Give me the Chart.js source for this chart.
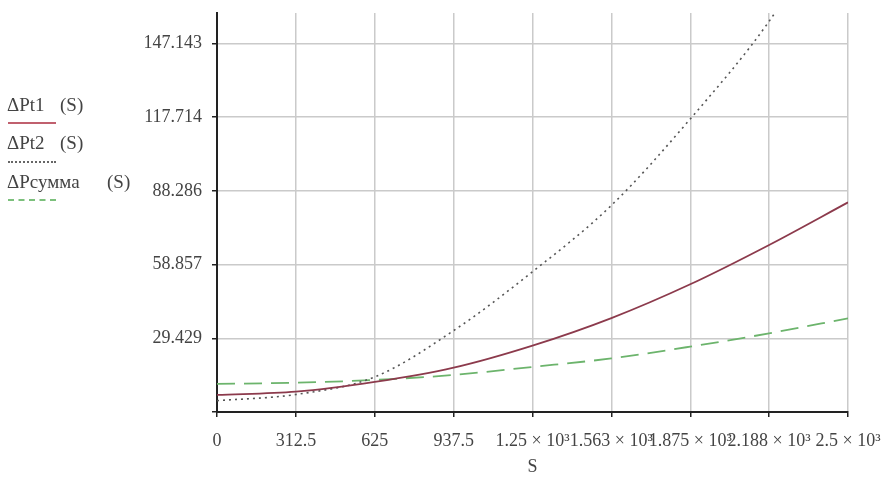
<!DOCTYPE html>
<html>
<head>
<meta charset="utf-8">
<script src="https://cdn.jsdelivr.net/npm/chart.js@4"></script>
<style>
  html, body { margin: 0; padding: 0; background: #fff; }
  #wrap { position: relative; width: 890px; height: 481px; }
  .lg { position: absolute; font-family: "Liberation Serif", serif; font-size: 19px; line-height: 22px; color: #444; white-space: nowrap; }
  .ln { position: absolute; left: 8px; width: 48px; height: 0; }
</style>
</head>
<body>
<div id="wrap">
  <canvas id="chart" width="890" height="481"></canvas>
  <div class="lg" style="left:7px;top:94px">ΔPt1</div>
  <div class="lg" style="left:60px;top:94px">(S)</div>
  <div class="ln" style="top:122px;border-top:2px solid #c0606e"></div>
  <div class="lg" style="left:7px;top:132px">ΔPt2</div>
  <div class="lg" style="left:60px;top:132px">(S)</div>
  <div class="ln" style="top:161px;border-top:2px dotted #666"></div>
  <div class="lg" style="left:7px;top:171px">ΔPсумма</div>
  <div class="lg" style="left:107px;top:171px">(S)</div>
  <div class="ln" style="top:199px;border-top:2px dashed #7cc07c"></div>
</div>
<script>
// S values and curves
const sValues = [0, 312.5, 625, 937.5, 1250, 1562.5, 1875, 2187.5, 2500];
const pt1 = [6.8, 8.1, 12.0, 17.7, 26.5, 37.5, 51.0, 66.7, 83.7];
const pt2 = [4.5, 7.0, 14.0, 32.5, 56.0, 82.5, 117.0, 156.0, 206.0];
const psum = [11.2, 11.7, 12.8, 14.8, 18.0, 21.4, 26.1, 31.4, 37.4];

const xTicks = [0, 312.5, 625, 937.5, 1250, 1562.5, 1875, 2187.5, 2500];
const xTickLabels = ["0", "312.5", "625", "937.5", "1.25 × 10³", "1.563 × 10³", "1.875 × 10³", "2.188 × 10³", "2.5 × 10³"];
const yTicks = [0, 29.429, 58.857, 88.286, 117.714, 147.143];
const yTickLabels = ["", "29.429", "58.857", "88.286", "117.714", "147.143"];

const font = { family: "Liberation Serif", size: 18 };

function pts(arr) {
  return sValues.map((s, i) => ({ x: s, y: arr[i] }));
}

// keep the plot box where the original has it (217..848, 13..412)
function noPad(scale) {
  scale.paddingLeft = 0;
  scale.paddingRight = 0;
  scale.paddingTop = 0;
  scale.paddingBottom = 0;
}

const ctx = document.getElementById("chart").getContext("2d");

new Chart(ctx, {
  type: "line",
  data: {
    datasets: [
      {
        label: "ΔPt1 (S)",
        data: pts(pt1),
        borderColor: "#8c3a4c",
        borderWidth: 1.8,
        pointRadius: 0,
        cubicInterpolationMode: "monotone"
      },
      {
        label: "ΔPt2 (S)",
        data: pts(pt2),
        borderColor: "#555",
        borderWidth: 1.6,
        borderDash: [2, 4],
        pointRadius: 0,
        cubicInterpolationMode: "monotone"
      },
      {
        label: "ΔPсумма (S)",
        data: pts(psum),
        borderColor: "#6cb46c",
        borderWidth: 1.8,
        borderDash: [18, 9],
        pointRadius: 0,
        cubicInterpolationMode: "monotone"
      }
    ]
  },
  options: {
    responsive: false,
    animation: false,
    layout: { padding: { left: 0, right: 42, top: 13, bottom: 0 } },
    plugins: {
      legend: { display: false },
      tooltip: { enabled: false }
    },
    scales: {
      x: {
        type: "linear",
        min: 0,
        max: 2500,
        afterBuildTicks: (scale) => {
          scale.ticks = xTicks.map((v) => ({ value: v }));
        },
        afterFit: (scale) => {
          scale.height = 69;
          noPad(scale);
        },
        ticks: {
          autoSkip: false,
          maxRotation: 0,
          padding: 13,
          color: "#444",
          font: font,
          callback: (v, i) => xTickLabels[i]
        },
        grid: { color: "#cacaca", lineWidth: 1.5, tickColor: "#222", tickLength: 5 },
        border: { color: "#222", width: 2 },
        title: { display: true, text: "S", color: "#444", font: font, padding: { top: 0, bottom: 3 } }
      },
      y: {
        min: 0,
        max: 159.3,
        afterBuildTicks: (scale) => {
          scale.ticks = yTicks.map((v) => ({ value: v }));
        },
        afterFit: (scale) => {
          scale.width = 217;
          noPad(scale);
        },
        ticks: {
          padding: 10,
          color: "#444",
          font: font,
          callback: (v, i) => yTickLabels[i]
        },
        grid: { color: "#cacaca", lineWidth: 1.5, tickColor: "#222", tickLength: 5 },
        border: { color: "#222", width: 2 }
      }
    }
  }
});
</script>
</body>
</html>
